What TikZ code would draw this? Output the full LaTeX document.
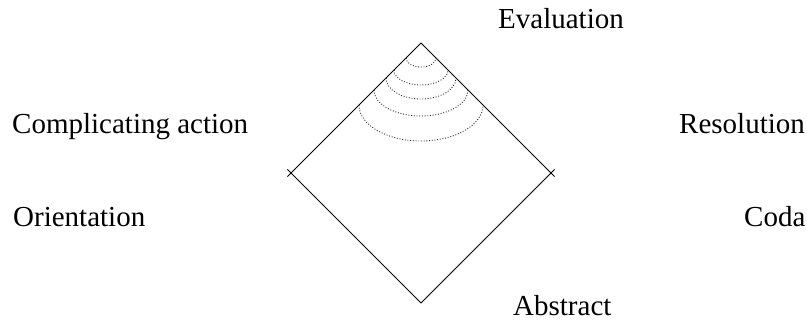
\documentclass[tikz,border=0pt]{standalone}
\usepackage{fontspec}
\setmainfont{Liberation Serif}
\begin{document}
\begin{tikzpicture}[x=1pt,y=-1pt,
  lbl/.style={anchor=base west,inner sep=0pt,font=\fontsize{29}{33}\selectfont},
  edge/.style={line width=0.9pt},
  ring/.style={dash pattern=on 0.9pt off 1.8pt,line width=0.9pt,black!85}]
\useasboundingbox (0,0) rectangle (807,321);
\coordinate (T) at (421,43);
\coordinate (L) at (291,173);
\coordinate (R) at (551,173);
\coordinate (B) at (421,303);
\draw[edge,shorten >=-5pt] (T) -- (L);
\draw[edge,shorten >=-5pt] (B) -- (L);
\draw[edge,shorten >=-5pt] (T) -- (R);
\draw[edge,shorten >=-5pt] (B) -- (R);
\foreach \cy/\rx/\ry in {58/15/9, 70/27/15, 78/35/21, 90/47/26, 105/62/36}{
  \draw[ring] ({421-\rx},\cy) arc[start angle=180,end angle=360,x radius=\rx pt,y radius=\ry pt];
}
\node[lbl] (eval) at (498,29) {Evaluation};
\node[lbl] (comp) at (12,133) {Complicating action};
\node[lbl] (res) at (679,133) {Resolution};
\node[lbl] (ori) at (13,226) {Orientation};
\node[lbl] (coda) at (744,226) {Coda};
\node[lbl] (abs) at (513,315) {Abstract};
\end{tikzpicture}
\end{document}
